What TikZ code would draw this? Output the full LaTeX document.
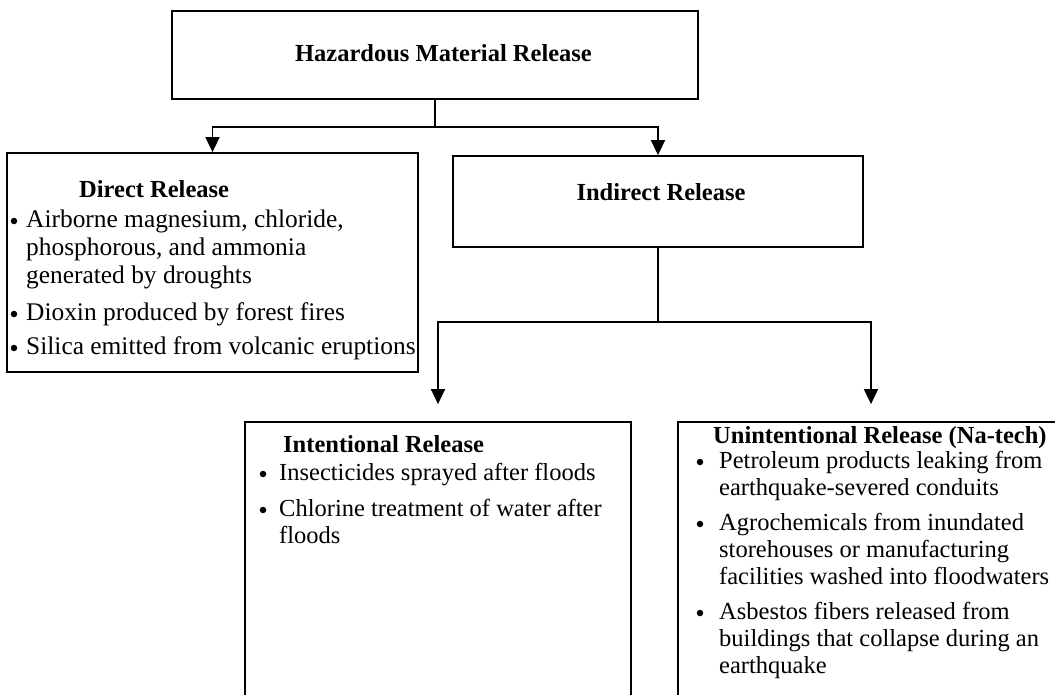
\documentclass[tikz,border=0pt]{standalone}
\usepackage{fontspec}
\setmainfont{Liberation Serif}
\usetikzlibrary{arrows.meta}
\tikzset{
  x=1pt, y=-1pt,
  box/.style={draw, line width=1.8pt, rectangle, inner sep=0pt},
  link/.style={line width=1.6pt},
  conn/.style={line width=1.6pt, -{Triangle[width=14pt,length=15pt]}},
  txt/.style={inner sep=0pt, anchor=base west, font=\fontsize{24.5}{27}\selectfont},
  txtl/.style={inner sep=0pt, anchor=base west, font=\fontsize{25.4}{28}\selectfont},
  ttl/.style={inner sep=0pt, anchor=base west, font=\fontsize{24.5}{27}\selectfont\bfseries},
  dot/.style={circle, fill, inner sep=0pt, minimum size=6.5pt},
}
\begin{document}
\begin{tikzpicture}
\useasboundingbox (0,0) rectangle (1055,694);
% boxes
\node[box, minimum width=526pt, minimum height=88pt] (top) at (435,55) {};
\node[box, minimum width=411pt, minimum height=219pt] (left) at (212.5,262.5) {};
\node[box, minimum width=410pt, minimum height=91pt] (ind) at (658,201.5) {};
\node[box, minimum width=386pt, minimum height=298pt] (int) at (438,571) {};
\node[box, minimum width=386pt, minimum height=298pt] (unint) at (871,571) {};
% titles
\node[ttl, anchor=base] (ttop) at (443.5,61) {Hazardous Material Release};
\node[ttl, anchor=base] (tind) at (661,200) {Indirect Release};
\node[ttl] (tleft) at (79,197) {Direct Release};
\node[ttl] (tint) at (283,452) {Intentional Release};
\node[ttl] (tunint) at (713,443) {Unintentional Release (Na-tech)};
% left box items
\node[dot] (bl1) at (14,221) {};
\node[txtl] (l1) at (26,227) {Airborne magnesium, chloride,};
\node[txtl] (l2) at (26,255) {phosphorous, and ammonia};
\node[txtl] (l3) at (26,283) {generated by droughts};
\node[dot] (bl2) at (14,314) {};
\node[txtl] (l4) at (26,320) {Dioxin produced by forest fires};
\node[dot] (bl3) at (14,348) {};
\node[txtl] (l5) at (26,354) {Silica emitted from volcanic eruptions};
% intentional items
\node[dot] (bi1) at (263,474) {};
\node[txt] (i1) at (279,480) {Insecticides sprayed after floods};
\node[dot] (bi2) at (263,510) {};
\node[txt] (i2) at (279,516) {Chlorine treatment of water after};
\node[txt] (i3) at (279,543) {floods};
% unintentional items
\node[dot] (bu1) at (700,462) {};
\node[txt] (u1) at (719,468) {Petroleum products leaking from};
\node[txt] (u2) at (719,495) {earthquake-severed conduits};
\node[dot] (bu2) at (700,524) {};
\node[txt] (u3) at (719,530) {Agrochemicals from inundated};
\node[txt] (u4) at (719,557) {storehouses or manufacturing};
\node[txt] (u5) at (719,584) {facilities washed into floodwaters};
\node[dot] (bu3) at (700,613) {};
\node[txt] (u6) at (719,619) {Asbestos fibers released from};
\node[txt] (u7) at (719,646) {buildings that collapse during an};
\node[txt] (u8) at (719,673) {earthquake};
% connectors
\coordinate (j1) at (435,127);
\draw[link] (top.south) -- (j1);
\draw[conn] (j1) -| (left.north);
\draw[conn] (j1) -| (ind.north);
\coordinate (j2) at (658,322);
\draw[link] (ind.south) -- (j2);
\draw[conn, shorten >=17pt] (j2) -| (int.north);
\draw[conn, shorten >=17pt] (j2) -| (unint.north);
\end{tikzpicture}
\end{document}
